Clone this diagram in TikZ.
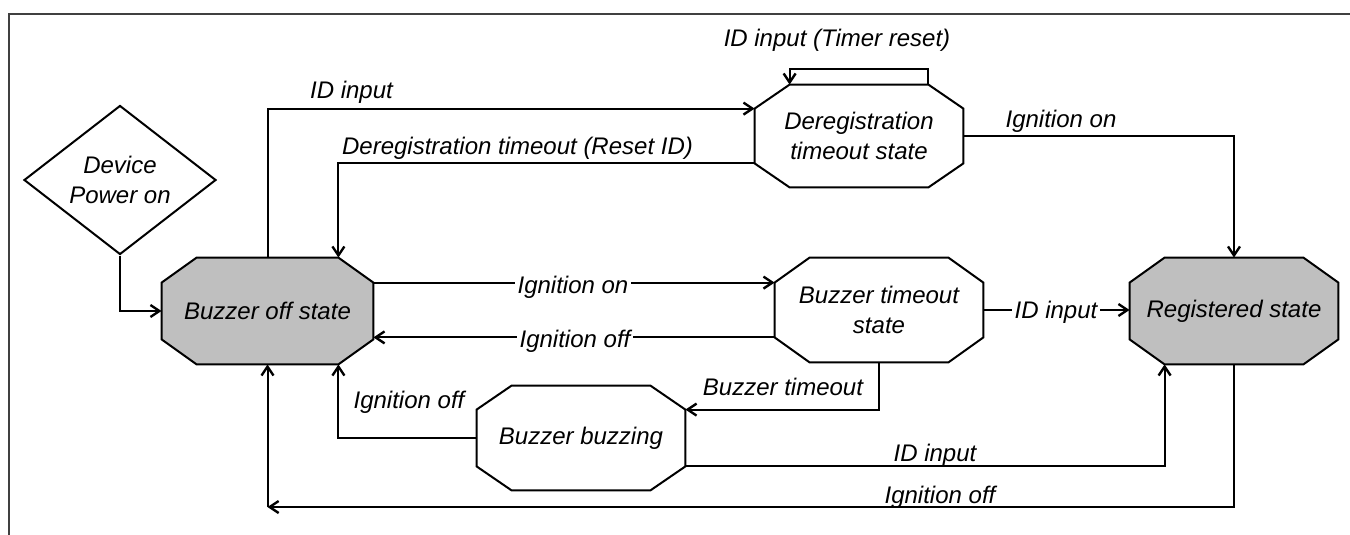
\documentclass[tikz,border=0pt]{standalone}
\usepackage{fontspec}
\setmainfont{Liberation Sans}
\usetikzlibrary{arrows.meta,calc,shapes.geometric,backgrounds}
\newcommand\octdraw[4]{%
  \draw[octline, fill=#4] ($(#1.north west)+(#2,0)$) -- ($(#1.north east)+(-#2,0)$)
    -- ($(#1.north east)+(0,#3)$) -- ($(#1.south east)+(0,-#3)$)
    -- ($(#1.south east)+(-#2,0)$) -- ($(#1.south west)+(#2,0)$)
    -- ($(#1.south west)+(0,-#3)$) -- ($(#1.north west)+(0,#3)$) -- cycle;}
\begin{document}
\begin{tikzpicture}[x=0.5pt,y=-0.5pt,
  every node/.style={font=\itshape\fontsize{12}{15}\selectfont},
  state/.style={draw=none, inner sep=0pt, minimum width=104pt, minimum height=52pt, align=center},
  lbl/.style={anchor=base, inner sep=1pt},
  ilbl/.style={anchor=base, inner xsep=1.5pt, inner ysep=0pt, fill=white},
  conn/.style={line width=1pt, -{Straight Barb[length=4.5pt,width=6pt,line width=1.2pt]}},
  octline/.style={line width=1pt, line join=miter},
  frame/.style={line width=0.9pt, draw=black!75}
]
\useasboundingbox (0,0) rectangle (1350,535);
\draw[frame] (9,535) -- (9,14) -- (1350,14);

% states
\node[state, minimum width=105.5pt, minimum height=53pt] (off) at (267.5,311) {Buzzer off state};
\node[state, minimum width=104pt, minimum height=53pt] (reg) at (1234,311) {Registered state};
\node[state, minimum width=104pt, minimum height=51pt] (dereg) at (859,136) {Deregistration\\timeout state};
\node[state] (bto) at (879,310) {Buzzer timeout\\state};
\node[state] (buzz) at (581,438) {Buzzer buzzing};
\node[draw, shape=diamond, line width=1pt, inner sep=0pt, minimum width=96pt, minimum height=68pt, align=center] (dev) at (120,180) {Device\\Power on};

\begin{pgfonlayer}{background}
  \octdraw{off}{35}{25}{black!25}
  \octdraw{reg}{35}{25}{black!25}
  \octdraw{dereg}{35}{24}{white}
  \octdraw{bto}{35}{25}{white}
  \octdraw{buzz}{35}{24}{white}
\end{pgfonlayer}

% corner coordinates
\coordinate (offNE) at ($(off.north east)+(0,25)$);
\coordinate (offTR) at ($(off.north east)+(-35,0)$);
\coordinate (offBR) at ($(off.south east)+(-35,0)$);
\coordinate (deregNW) at ($(dereg.north west)+(0,24)$);
\coordinate (deregSW) at ($(dereg.south west)+(0,-24)$);
\coordinate (deregTL) at ($(dereg.north west)+(35,0)$);
\coordinate (deregTR) at ($(dereg.north east)+(-35,0)$);
\coordinate (btoSW) at ($(bto.south west)+(0,-25)$);
\coordinate (buzzNE) at ($(buzz.north east)+(0,24)$);
\coordinate (buzzSE) at ($(buzz.south east)+(0,-24)$);
\coordinate (regBL) at ($(reg.south west)+(35,0)$);
\coordinate (bend) at (267.5,507);

% connectors
\draw[conn] (dev.south) |- (off.west);
\draw[conn] (off.north) |- (deregNW);
\draw[conn] (deregSW) -| (offTR);
\draw[conn] (deregTR) -- ++(0,-16) -| (deregTL);
\draw[conn] (dereg.east) -| (reg.north);
\draw[conn] (offNE) -- (offNE -| bto.west);
\draw[conn] (btoSW) -- (btoSW -| off.east);
\draw[conn] (bto.east) -- (bto.east -| reg.west);
\draw[conn] (bto.south) |- (buzzNE);
\draw[conn] (buzz.west) -| (offBR);
\draw[conn] (buzzSE) -| (regBL);
\draw[conn] (reg.south) |- (bend);
\draw[conn] (bend) -- (off.south);

% labels
\node[lbl] (l1) at (837,47) {ID input (Timer reset)};
\node[lbl] (l2) at (351.5,99) {ID input};
\node[lbl] (l3) at (517.5,155) {Deregistration timeout (Reset ID)};
\node[lbl] (l4) at (1061,128) {Ignition on};
\node[ilbl] (l5) at (573,293) {Ignition on};
\node[ilbl] (l6) at (575,347) {Ignition off};
\node[ilbl] (l7) at (1056,318) {ID input};
\node[lbl] (l8) at (783,395) {Buzzer timeout};
\node[lbl] (l9) at (409,408) {Ignition off};
\node[lbl] (l10) at (935,461) {ID input};
\node[lbl] (l11) at (940,503) {Ignition off};
\end{tikzpicture}
\end{document}
